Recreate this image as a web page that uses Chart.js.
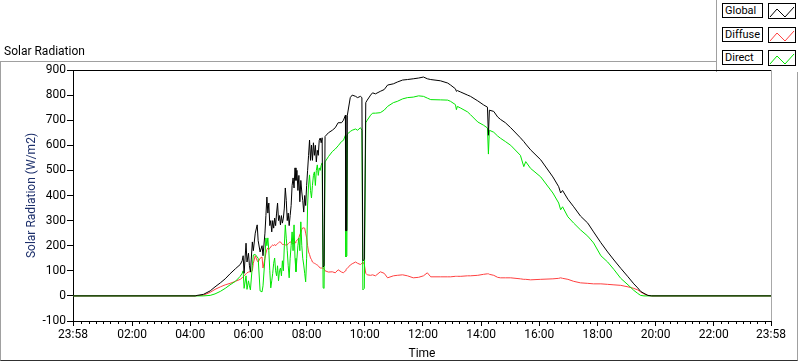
<!DOCTYPE html>
<html>
<head>
<meta charset="utf-8">
<script src="https://cdn.jsdelivr.net/npm/chart.js@4.4.1/dist/chart.umd.min.js"></script>
<style>
    body { margin: 0; background: #fff; font-family: Roboto, "Noto Sans", sans-serif; }
    #wrap { position: relative; width: 800px; height: 361px; overflow: hidden; }
    #frame { position: absolute; left: 0; top: 61px; width: 796px; height: 298px;
             border: 1px solid #a0a0a0; border-bottom-color: #303030; z-index: 1; }
    #legend { position: absolute; left: 716px; top: 0; width: 84px; height: 72px;
              background: #fff; border-left: 1px solid #a0a0a0; z-index: 2; }
    #chart { position: absolute; left: 0; top: 0; z-index: 3; }
    #title { position: absolute; left: 4px; top: 44px; font-size: 12px; color: #000; z-index: 4; }
    .lbl { position: absolute; left: 5px; width: 41px; height: 15px; box-sizing: border-box;
           border: 1px solid #000; font-size: 11px; line-height: 13px; padding-left: 2px; background: #fff; }
    .ico { position: absolute; left: 51px; width: 28px; height: 16px; box-sizing: border-box;
           border: 1px solid #000; background: #fff; }
</style>
</head>
<body>
<div id="wrap">
    <div id="frame"></div>
    <div id="legend"></div>
    <div id="title">Solar Radiation</div>
    <canvas id="chart" width="800" height="361"></canvas>
</div>
<script>
// time in minutes after midnight (23:58 of the previous day = -2)
var times = [
    -2, 250, 254, 267, 281, 291, 302, 312, 322, 333,
    343, 347, 349, 351, 355, 357, 360, 362, 364, 368,
    370, 374, 378, 380, 384, 388, 390,
    394, 396, 398, 400, 402, 404, 406, 408, 410, 412,
    414, 416, 418, 420, 422, 424, 426, 428, 430, 432,
    434, 436, 438, 440, 442, 444, 446, 448, 450, 452,
    454, 456, 458, 460, 462, 464, 466, 468, 470, 472,
    474, 476, 478, 480, 482, 484, 486, 488, 490, 492,
    494, 496, 498, 500, 502, 504, 506, 508, 510, 512,
    514, 516, 518,
    525, 533, 539, 545, 552, 556, 560, 561, 563, 564,
    570, 574, 581, 585, 591, 594, 596, 599, 602, 605,
    612, 616, 622, 632, 640, 647, 659, 667, 678, 688,
    700, 711, 721, 729, 736, 756, 771, 777, 787, 789,
    791, 798, 812, 818, 833, 845, 853, 855, 857, 866,
    874, 880, 890, 901, 921, 928, 932, 942, 963, 988,
    1000, 1004, 1008, 1019, 1031, 1045, 1060, 1072, 1087, 1101,
    1114, 1128, 1143, 1155, 1163, 1169, 1176, 1184, 1192, 1438
];
var globalRad = [
    0, 0, 2, 6, 20, 36, 52, 68, 88, 108,
    125, 140, 160, 90, 210, 135, 170, 120, 95, 215,
    180, 250, 283, 220, 175, 200, 160,
    250, 320, 394, 330, 370, 280, 300, 255, 300, 270,
    310, 280, 330, 370, 300, 320, 283, 320, 290, 310,
    350, 430, 380, 300, 330, 280, 320, 360, 440, 470,
    430, 510, 460, 500, 420, 480, 375, 460, 414, 380,
    334, 400, 360, 440, 500, 560, 621, 540, 601, 540,
    610, 560, 600, 534, 580, 560, 620, 629, 610, 630,
    115, 120, 635,
    650, 660, 670, 690, 690, 700, 720, 260, 260, 720,
    790, 800, 795, 790, 795, 790, 140, 145, 770, 780,
    800, 809, 805, 815, 822, 840, 845, 852, 860, 862,
    865, 868, 872, 865, 862, 857, 848, 840, 825, 815,
    818, 812, 800, 795, 777, 761, 752, 640, 740, 735,
    713, 703, 690, 670, 630, 615, 605, 582, 542, 474,
    435, 410, 420, 385, 355, 318, 290, 255, 212, 175,
    143, 110, 76, 48, 32, 18, 10, 2, 0, 0
];
var diffuseRad = [
    0, 0, 1, 3, 14, 26, 36, 44, 50, 58,
    66, 72, 76, 80, 88, 92, 95, 96, 96, 100,
    130, 160, 140, 135, 150, 155, 111,
    150, 170, 185, 191, 185, 190, 195, 200, 203, 200,
    205, 200, 205, 208, 212, 215, 215, 210, 205, 205,
    203, 203, 203, 203, 208, 212, 215, 213, 210, 208,
    210, 212, 218, 222, 225, 232, 245, 251, 265, 271,
    271, 270, 250, 231, 200, 175, 165, 151, 145, 135,
    132, 130, 128, 125, 123, 120, 115, 111, 111, 111,
    111, 108, 100,
    95, 96, 92, 104, 95, 92, 100, 105, 108, 110,
    123, 128, 135, 130, 125, 130, 135, 125, 90, 84,
    82, 84, 80, 96, 90, 72, 80, 82, 84, 80,
    72, 74, 80, 92, 76, 76, 76, 76, 78, 78,
    78, 78, 80, 80, 82, 86, 88, 88, 86, 82,
    74, 72, 72, 72, 68, 66, 66, 64, 66, 68,
    70, 72, 70, 66, 58, 52, 50, 48, 48, 46,
    44, 42, 36, 30, 24, 16, 8, 2, 0, 0
];
var directRad = [
    0, 0, 0, 0, 2, 8, 18, 30, 44, 58,
    78, 90, 100, 30, 80, 26, 60, 40, 24, 120,
    163, 165, 155, 150, 20, 16, 40,
    150, 231, 200, 231, 180, 100, 32, 60, 90, 130,
    151, 100, 80, 120, 60, 100, 111, 80, 140, 100,
    200, 283, 230, 180, 120, 72, 150, 200, 255, 180,
    283, 150, 96, 150, 200, 231, 180, 295, 200, 150,
    123, 90, 56, 150, 362, 442, 482, 420, 390, 440,
    480, 494, 440, 500, 522, 480, 510, 500, 520, 530,
    32, 30, 534,
    555, 575, 585, 598, 615, 620, 640, 155, 160, 645,
    655, 660, 665, 660, 670, 660, 24, 30, 690, 700,
    720, 728, 728, 730, 740, 755, 770, 775, 785, 790,
    792, 797, 795, 788, 782, 781, 780, 775, 762, 742,
    755, 748, 733, 722, 693, 680, 669, 565, 660, 652,
    637, 628, 615, 600, 560, 515, 535, 508, 474, 410,
    370, 343, 355, 315, 290, 263, 238, 211, 160, 135,
    105, 70, 44, 22, 10, 2, 0, 0, 0, 0
];

var seriesNames = ["Global", "Diffuse", "Direct"];
var seriesColors = ["#000000", "#ff4040", "#00e600"];
var seriesOrder = [1, 3, 2]; // global drawn on top

var tickMinutes = [-2, 120, 240, 360, 480, 600, 720, 840, 960, 1080, 1200, 1320, 1438];
var tickLabels = ["23:58", "02:00", "04:00", "06:00", "08:00", "10:00", "12:00", "14:00",
                  "16:00", "18:00", "20:00", "22:00", "23:58"];
var minorStep = 15;

var fontTick = { family: "Roboto", size: 12 };

function toPoints(values) {
    return times.map(function (t, i) {
        return { x: t, y: values[i] };
    });
}

// plot frame (top / right) and the small minor ticks of the time axis
var framePlugin = {
    id: "frame",
    afterDraw: function (chart) {
        var ctx = chart.ctx;
        var a = chart.chartArea;
        var xs = chart.scales.x;
        ctx.save();
        ctx.lineWidth = 1;
        ctx.strokeStyle = "#000";
        ctx.beginPath();
        ctx.moveTo(a.left, Math.round(a.top) + 0.5);
        ctx.lineTo(a.right, Math.round(a.top) + 0.5);
        ctx.stroke();
        ctx.strokeStyle = "#a8a8a8";
        ctx.beginPath();
        ctx.moveTo(Math.round(a.right) + 0.5, a.top);
        ctx.lineTo(Math.round(a.right) + 0.5, a.bottom);
        ctx.stroke();
        ctx.strokeStyle = "#000";
        ctx.beginPath();
        for (var m = minorStep; m < 1438; m += minorStep) {
            if (m % 120 === 0) continue;
            var px = Math.round(xs.getPixelForValue(m)) + 0.5;
            ctx.moveTo(px, a.bottom);
            ctx.lineTo(px, a.bottom + 3);
        }
        ctx.stroke();
        ctx.restore();
    }
};

var datasets = [globalRad, diffuseRad, directRad].map(function (vals, i) {
    return {
        label: seriesNames[i],
        data: toPoints(vals),
        borderColor: seriesColors[i],
        borderWidth: 1,
        pointRadius: 0,
        tension: 0,
        order: seriesOrder[i]
    };
});

var chart = new Chart(document.getElementById("chart").getContext("2d"), {
    type: "line",
    data: { datasets: datasets },
    options: {
        responsive: false,
        animation: false,
        layout: { padding: { top: 70, right: 29, bottom: 0, left: 0 } },
        plugins: {
            legend: { display: false },
            tooltip: { enabled: false }
        },
        scales: {
            x: {
                type: "linear",
                min: -2,
                max: 1438,
                afterBuildTicks: function (s) {
                    s.ticks = tickMinutes.map(function (v) { return { value: v }; });
                },
                afterFit: function (s) { s.height = 40; },
                ticks: {
                    autoSkip: false,
                    maxRotation: 0,
                    padding: 2,
                    color: "#000",
                    font: fontTick,
                    callback: function (v, i) { return tickLabels[i]; }
                },
                grid: { drawOnChartArea: false, tickLength: 5, color: "#000" },
                border: { color: "#000" },
                title: { display: true, text: "Time", color: "#000", font: fontTick, padding: { top: 0, bottom: 0 } }
            },
            y: {
                min: -100,
                max: 900,
                afterFit: function (s) { s.width = 73; },
                ticks: { stepSize: 100, padding: 1, color: "#000", font: fontTick },
                grid: { drawOnChartArea: false, tickLength: 6, color: "#000" },
                border: { color: "#000" },
                title: {
                    display: true,
                    text: "Solar Radiation (W/m2)",
                    color: "#1c2f6b",
                    font: fontTick,
                    padding: { top: 25, bottom: 0 }
                }
            }
        }
    },
    plugins: [framePlugin]
});

// legend in the top right corner, built from the datasets
var legend = document.getElementById("legend");
chart.data.datasets.forEach(function (ds, i) {
    var top = 3 + i * 23.5;
    var lbl = document.createElement("div");
    lbl.className = "lbl";
    lbl.style.top = top + "px";
    lbl.textContent = ds.label;
    legend.appendChild(lbl);
    var ico = document.createElement("div");
    ico.className = "ico";
    ico.style.top = top + "px";
    ico.innerHTML = '<svg width="26" height="14"><polyline points="1,12 8,4 16,12 25,2" fill="none" stroke="' +
        ds.borderColor + '" stroke-width="1"/></svg>';
    legend.appendChild(ico);
});
</script>
</body>
</html>
